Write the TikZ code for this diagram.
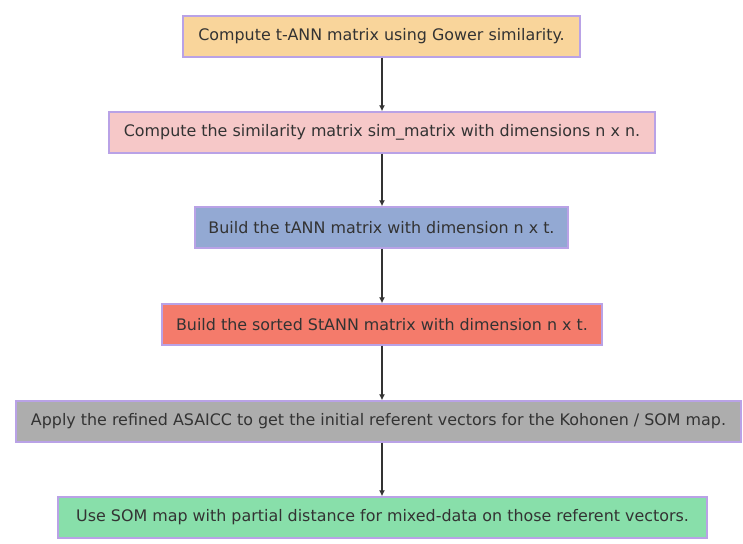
\documentclass[tikz,border=0pt]{standalone}
\usepackage{fontspec}
\setmainfont{DejaVu Sans}
\usetikzlibrary{arrows.meta}
\definecolor{boxline}{HTML}{B9A2E6}
\definecolor{arrowline}{HTML}{333333}
\definecolor{textgray}{HTML}{333333}
\definecolor{fillorange}{HTML}{F9D59B}
\definecolor{fillpink}{HTML}{F6C8C8}
\definecolor{fillblue}{HTML}{93A9D3}
\definecolor{fillred}{HTML}{F47B6B}
\definecolor{fillgray}{HTML}{ADADAD}
\definecolor{fillgreen}{HTML}{88DFAA}
\tikzset{
  stepbox/.style={draw=boxline, line width=1.4pt, text=textgray,
    minimum height=41pt, inner sep=0pt, font=\fontsize{15.9}{18}\selectfont},
  flowarrow/.style={draw=arrowline, line width=1.5pt,
    -{Latex[length=6pt,width=6pt]}}
}
\begin{document}
\begin{tikzpicture}[x=1pt,y=-1pt]
            \useasboundingbox (0,0) rectangle (743,543);
            {
            
            % Box 1: t-ANN with Gower
            \node [stepbox, fill=fillorange, minimum width=397pt] (gower) at (381.5,36.5) {Compute t-ANN matrix using Gower similarity.};%
            
            % Box 2: similarity matrix
            \node [stepbox, fill=fillpink, minimum width=546pt] (simmat) at (382,132.5) {Compute the similarity matrix sim\_matrix with dimensions n x n.};%
            
            % Box 3: tANN matrix
            \node [stepbox, fill=fillblue, minimum width=373pt] (tann) at (381.5,227.5) {Build the tANN matrix with dimension n x t.};%
            
            % Box 4: sorted StANN matrix
            \node [stepbox, fill=fillred, minimum width=440pt] (stann) at (382,324.5) {Build the sorted StANN matrix with dimension n x t.};%
            
            % Box 5: refined ASAICC
            \node [stepbox, fill=fillgray, minimum width=725pt] (asaicc) at (378.5,421.5) {Apply the refined ASAICC to get the initial referent vectors for the Kohonen / SOM map.};%
            
            % Box 6: SOM with partial distance
            \node [stepbox, fill=fillgreen, minimum width=649pt] (som) at (382.5,517.5) {Use SOM map with partial distance for mixed-data on those referent vectors.};%
            
            % Drawing the arrows
            \draw [flowarrow] (gower.south -| 382,0) -- (simmat.north -| 382,0);%
            \draw [flowarrow] (simmat.south -| 382,0) -- (tann.north -| 382,0);%
            \draw [flowarrow] (tann.south -| 382,0) -- (stann.north -| 382,0);%
            \draw [flowarrow] (stann.south -| 382,0) -- (asaicc.north -| 382,0);%
            \draw [flowarrow] (asaicc.south -| 382,0) -- (som.north -| 382,0);%
            }
        \end{tikzpicture}
\end{document}
